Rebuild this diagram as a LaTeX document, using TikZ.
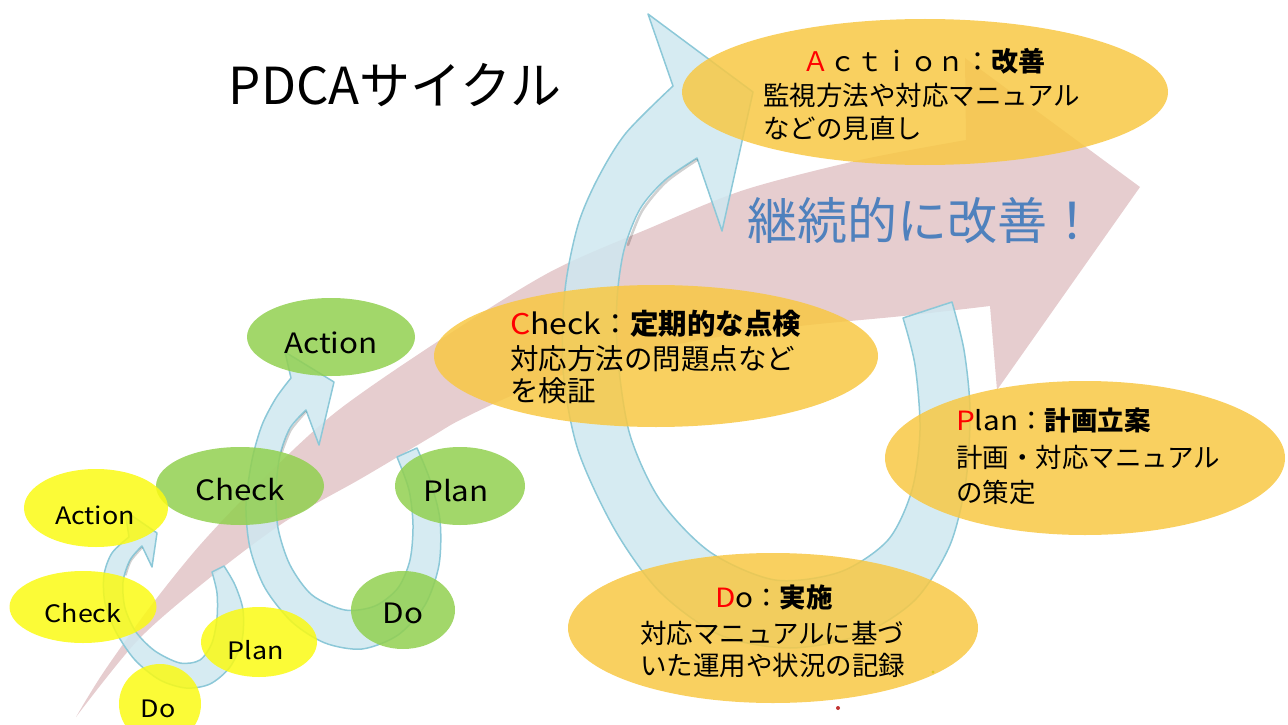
\documentclass[tikz,border=0pt]{standalone}
\usepackage{fontspec}
\newfontfamily\jp{Noto Sans CJK JP}
\newfontfamily\jpw{Noto Sans CJK JP}[FakeStretch=1.12]
\usetikzlibrary{shapes.geometric}
\definecolor{pinkA}{RGB}{230,205,207}
\definecolor{blueF}{RGB}{207,232,240}
\definecolor{blueD}{RGB}{140,200,216}
\definecolor{orangeE}{RGB}{248,200,68}
\definecolor{greenE}{RGB}{146,208,80}
\definecolor{yellowE}{RGB}{250,250,20}
\definecolor{blueT}{RGB}{79,129,189}
\newcommand\setsz[2]{\fontsize{#1}{#2}\selectfont}
\begin{document}
\begin{tikzpicture}[x=1pt,y=-1pt,
  blob/.style={ellipse, inner sep=0pt, draw=none, fill opacity=0.85},
  orangeblob/.style={blob, fill=orangeE},
  greenblob/.style={blob, fill=greenE},
  yellowblob/.style={blob, fill=yellowE},
  ringarrow/.style={fill=blueF, draw=blueD, line width=1.5pt, line join=round, fill opacity=0.85},
  bevel/.style={draw=black, draw opacity=0.18, line width=2.5pt, line cap=round},
  lblG/.style={inner sep=0pt, anchor=base, font=\jpw\setsz{28}{32}},
  lblY/.style={inner sep=0pt, anchor=base, font=\jpw\setsz{24}{28}},
  txtA/.style={inner sep=0pt, anchor=base west, font=\jp\setsz{26.5}{33}},
  txtC/.style={inner sep=0pt, anchor=base west, font=\jp\setsz{28.5}{34}}]
\useasboundingbox (0,0) rectangle (1288,725);

% big pink arrow
\fill[pinkA] plot[smooth] coordinates {(76,717) (103,673) (150,607) (200,545) (260,482) (336,412) (440,340) (550,272) (650,228) (744,190) (860,160) (966,140)}
  -- (965,58) -- (1140,187) -- (997,390)
  -- plot[smooth] coordinates {(990,306) (903,316) (800,326) (700,340) (600,362) (520,392) (460,420) (431,437) (362,478) (283,523) (207,580) (138,640) (76,717)}
  -- cycle;

% big blue cycle arrow
\path[ringarrow] plot[smooth] coordinates {(952,302) (964,350) (970,410) (966,480) (950,545) (915,600) (860,635) (790,648) (720,635) (660,592) (615,530) (578,450) (563,370) (565,290) (578,225) (598,178) (626,133) (673,86)}
  -- (648,14) -- (753,92) -- (722,231)
  -- plot[smooth] coordinates {(697,158) (665,180) (640,209) (624,250) (617,300) (618,360) (630,435) (660,500) (710,552) (775,580) (840,572) (888,540) (912,490) (920,430) (915,365) (903,318)}
  -- cycle;
\draw[bevel] plot[smooth] coordinates {(697,160) (666,182) (642,211) (628,245)};

% medium blue cycle arrow
\path[ringarrow] plot[smooth] coordinates {(417,448) (430,480) (440,520) (439,565) (425,605) (398,635) (362,649) (325,643) (292,622) (265,588) (250,548) (246,505) (252,460) (262,425) (276,398) (291,378)}
  -- (285,352) -- (334,382) -- (319,445)
  -- plot[smooth] coordinates {(306,410) (290,428) (280,455) (276,490) (278,528) (290,565) (312,595) (345,610) (375,606) (398,588) (410,560) (413,525) (409,490) (397,457)}
  -- cycle;
\draw[bevel, line width=2pt] plot[smooth] coordinates {(306,412) (291,430) (282,452)};

% small blue cycle arrow
\path[ringarrow] plot[smooth] coordinates {(224,566) (235,585) (243,610) (242,640) (230,667) (210,684) (186,688) (160,680) (135,660) (116,632) (105,603) (104,575) (112,553) (129,537)}
  -- (125,511) -- (157,533) -- (152,567)
  -- plot[smooth] coordinates {(142,546) (130,560) (123,582) (125,608) (136,632) (155,651) (180,663) (200,660) (212,643) (217,618) (217,593) (212,572)}
  -- cycle;
\draw[bevel, line width=1.6pt] plot[smooth] coordinates {(142,548) (131,561) (126,575)};

% orange ellipses
\node[orangeblob, minimum width=486, minimum height=146] (actE) at (925,92) {};
\node[orangeblob, minimum width=444, minimum height=142] (chkE) at (656,356) {};
\node[orangeblob, minimum width=400, minimum height=154] (plnE) at (1085,458) {};
\node[orangeblob, minimum width=410, minimum height=150] (doE) at (773,628) {};

% green ellipses
\node[greenblob, minimum width=168, minimum height=78] (gAct) at (331,337) {};
\node[greenblob, minimum width=168, minimum height=78] (gChk) at (240,486) {};
\node[greenblob, minimum width=130, minimum height=78] (gPln) at (460,486) {};
\node[greenblob, minimum width=104, minimum height=78] (gDo) at (403,610) {};

% yellow ellipses
\node[yellowblob, minimum width=144, minimum height=78] (yAct) at (96,508) {};
\node[yellowblob, minimum width=147, minimum height=72] (yChk) at (83,607) {};
\node[yellowblob, minimum width=116, minimum height=70] (yPln) at (259,642) {};
\node[yellowblob, minimum width=82, minimum height=80] (yDo) at (160,704) {};

% small dots
\fill[red!70!black, opacity=0.8] (838,708) circle[radius=2];
\fill[yellow!60!olive, opacity=0.6] (933,672) circle[radius=1.6];

% title
\node[inner sep=0pt, anchor=base, font=\jp\setsz{51}{56}] (title) at (395,104) {PDCAサイクル};

% continuous improvement
\node[inner sep=0pt, anchor=base, font=\jp\setsz{50}{56}, text=blueT] (kaizen) at (922,239) {継続的に改善！};

% Action block
\node[inner sep=0pt, anchor=base, font=\jp\setsz{27}{33}] (actH) at (924,72) {\textcolor{red}{Ａ}ｃｔｉｏｎ：\textbf{改善}};
\node[txtA] (actL1) at (763,106) {監視方法や対応マニュアル};
\node[txtA] (actL2) at (763,138) {などの見直し};

% Check block
\node[txtC] (chkH) at (510,334) {{\jpw\textcolor{red}{C}heck}：\textbf{定期的な点検}};
\node[txtC] (chkL1) at (510,369) {対応方法の問題点など};
\node[txtC] (chkL2) at (510,401) {を検証};

% Plan block
\node[txtA] (plnH) at (956,430) {{\jpw\textcolor{red}{P}lan}：\textbf{計画立案}};
\node[txtA] (plnL1) at (956,467) {計画・対応マニュアル};
\node[txtA] (plnL2) at (956,502) {の策定};

% Do block
\node[inner sep=0pt, anchor=base, font=\jp\setsz{26.5}{33}] (doH) at (774,607) {{\jpw\textcolor{red}{D}o}：\textbf{実施}};
\node[txtA] (doL1) at (640,643) {対応マニュアルに基づ};
\node[txtA] (doL2) at (640,675) {いた運用や状況の記録};

% green labels
\node[lblG] (tgAct) at (331,353) {Action};
\node[lblG] (tgChk) at (240,500) {Check};
\node[lblG] (tgPln) at (456,501) {Plan};
\node[lblG] (tgDo) at (403,623) {Do};

% yellow labels
\node[lblY] (tyAct) at (95,524) {Action};
\node[lblY] (tyChk) at (83,622) {Check};
\node[lblY] (tyPln) at (256,659) {Plan};
\node[lblY] (tyDo) at (158,717) {Do};
\end{tikzpicture}
\end{document}
